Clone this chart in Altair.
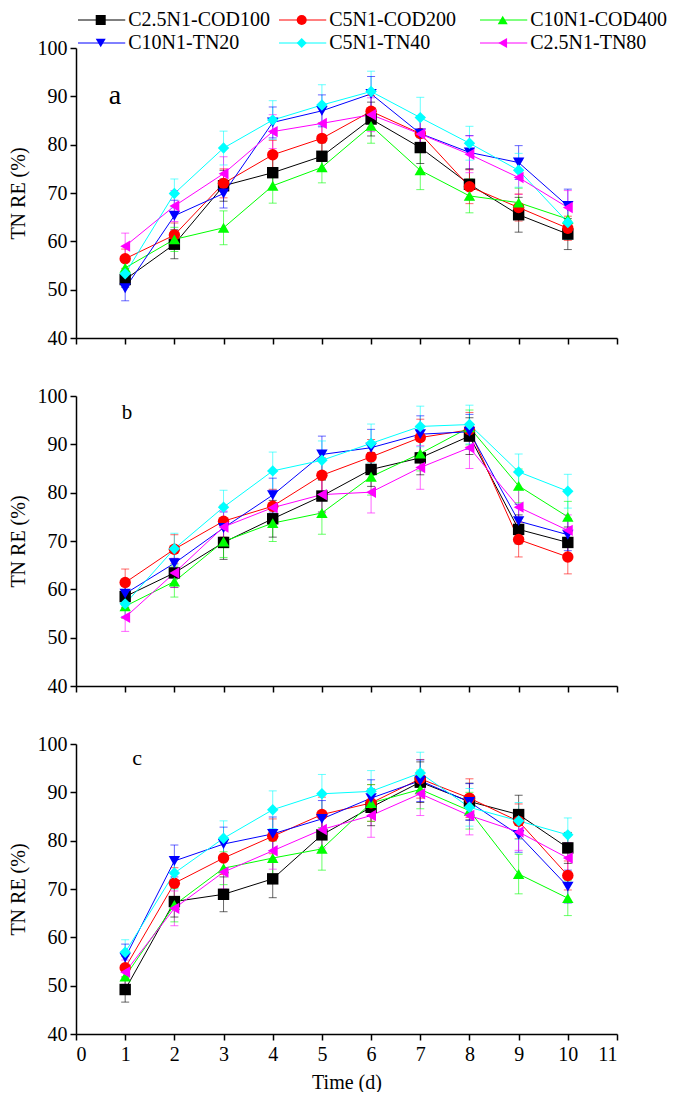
import altair as alt
import pandas as pd

DAYS = [1, 2, 3, 4, 5, 6, 7, 8, 9, 10]
SERIES = ["C2.5N1-COD100", "C5N1-COD200", "C10N1-COD400",
          "C10N1-TN20", "C5N1-TN40", "C2.5N1-TN80"]
COLORS = ["#000000", "#ff0000", "#00ff00", "#0000ff", "#00ffff", "#ff00ff"]
SHAPES = ["square", "circle", "triangle-up", "triangle-down", "diamond", "triangle-left"]
X_TICKS = [0, 1, 2, 3, 4, 5, 6, 7, 8, 9, 10, 11]
Y_TICKS = [40, 50, 60, 70, 80, 90, 100]
PANEL_LABELS = ["a", "b", "c"]

# ---- panel a ----
A_COD100 = [52.1, 59.4, 71.5, 74.2, 77.6, 85.3, 79.4, 71.8, 65.5, 61.5]
A_COD200 = [56.4, 61.3, 72.0, 77.9, 81.3, 86.9, 82.3, 71.3, 67.0, 62.7]
A_COD400 = [54.5, 60.4, 62.8, 71.5, 75.3, 83.9, 74.7, 69.4, 68.0, 64.6]
A_TN20 = [50.3, 65.3, 69.9, 84.6, 87.0, 90.5, 82.3, 78.4, 76.3, 67.3]
A_TN40 = [53.3, 69.9, 79.3, 85.1, 88.2, 91.0, 85.6, 80.3, 74.7, 63.9]
A_TN80 = [59.0, 67.3, 74.0, 82.7, 84.4, 86.2, 82.2, 78.0, 73.2, 67.0]
A_ERR_COD100 = [1.6, 3.0, 3.2, 3.3, 2.8, 3.5, 3.3, 3.2, 3.6, 3.2]
A_ERR_COD200 = [2.0, 2.5, 3.0, 3.0, 3.2, 3.3, 3.3, 3.5, 2.8, 2.5]
A_ERR_COD400 = [2.5, 2.5, 3.5, 3.6, 3.2, 3.6, 4.0, 3.5, 3.0, 3.0]
A_ERR_TN20 = [2.6, 3.2, 3.0, 3.2, 3.3, 3.6, 3.5, 3.5, 3.5, 3.5]
A_ERR_TN40 = [2.5, 3.0, 3.5, 4.0, 4.2, 4.2, 4.2, 3.5, 3.5, 3.5]
A_ERR_TN80 = [2.7, 3.2, 3.5, 3.5, 3.5, 3.5, 3.5, 3.8, 3.5, 3.5]

# ---- panel b ----
B_COD100 = [58.5, 63.4, 69.7, 74.6, 79.3, 84.8, 87.2, 91.7, 72.4, 69.7]
B_COD200 = [61.4, 68.3, 74.1, 77.2, 83.6, 87.4, 91.4, 93.0, 70.3, 66.7]
B_COD400 = [56.5, 61.6, 69.9, 73.7, 75.8, 83.3, 88.1, 93.5, 81.4, 75.0]
B_TN20 = [59.1, 65.4, 72.7, 79.5, 87.9, 89.3, 92.1, 92.6, 74.1, 71.3]
B_TN40 = [57.0, 68.4, 77.0, 84.5, 86.7, 90.2, 93.7, 94.1, 84.3, 80.3]
B_TN80 = [54.2, 63.4, 72.9, 76.9, 79.6, 80.1, 85.2, 89.3, 77.0, 72.2]
B_ERR_COD100 = [2.2, 3.0, 3.5, 3.8, 3.3, 3.5, 3.5, 3.8, 3.0, 3.2]
B_ERR_COD200 = [2.8, 3.0, 3.3, 3.5, 3.6, 3.6, 3.8, 3.6, 3.6, 3.5]
B_ERR_COD400 = [2.5, 3.2, 3.3, 3.8, 4.4, 3.8, 3.6, 3.6, 3.5, 3.2]
B_ERR_TN20 = [2.4, 3.0, 3.3, 3.5, 3.8, 3.8, 3.8, 3.6, 3.5, 3.3]
B_ERR_TN40 = [2.6, 3.2, 3.5, 3.9, 4.0, 4.0, 4.2, 4.0, 3.7, 3.5]
B_ERR_TN80 = [2.9, 3.0, 3.3, 3.6, 3.8, 4.3, 4.5, 4.3, 3.8, 3.2]

# ---- panel c ----
C_COD100 = [49.2, 67.4, 68.9, 72.1, 81.2, 86.9, 92.1, 88.1, 85.4, 78.5]
C_COD200 = [53.7, 71.2, 76.4, 80.9, 85.4, 87.8, 92.8, 88.8, 84.0, 72.8]
C_COD400 = [51.9, 66.7, 74.3, 76.4, 78.3, 87.8, 90.6, 86.2, 73.1, 68.1]
C_TN20 = [55.8, 75.8, 79.3, 81.4, 84.5, 88.8, 92.4, 88.0, 81.2, 70.5]
C_TN40 = [56.9, 73.3, 80.5, 86.4, 89.7, 90.2, 94.0, 86.9, 84.1, 81.2]
C_TN80 = [52.8, 66.0, 73.5, 77.9, 82.3, 85.2, 89.7, 85.2, 81.8, 76.4]
C_ERR_COD100 = [2.6, 3.2, 3.6, 3.9, 3.5, 3.8, 4.2, 3.8, 4.0, 3.2]
C_ERR_COD200 = [2.4, 3.2, 3.4, 3.6, 3.6, 3.8, 4.0, 4.0, 3.6, 3.0]
C_ERR_COD400 = [2.2, 3.5, 3.4, 3.5, 4.4, 3.8, 4.0, 3.8, 4.1, 3.6]
C_ERR_TN20 = [2.8, 3.3, 3.5, 3.5, 3.8, 3.8, 4.3, 3.8, 3.6, 3.4]
C_ERR_TN40 = [2.6, 3.3, 3.6, 3.9, 4.0, 4.3, 4.3, 3.9, 3.8, 3.5]
C_ERR_TN80 = [2.5, 3.6, 3.5, 3.8, 3.8, 4.5, 4.5, 4.0, 3.8, 3.2]

PANELS = [
    ([A_COD100, A_COD200, A_COD400, A_TN20, A_TN40, A_TN80],
     [A_ERR_COD100, A_ERR_COD200, A_ERR_COD400, A_ERR_TN20, A_ERR_TN40, A_ERR_TN80]),
    ([B_COD100, B_COD200, B_COD400, B_TN20, B_TN40, B_TN80],
     [B_ERR_COD100, B_ERR_COD200, B_ERR_COD400, B_ERR_TN20, B_ERR_TN40, B_ERR_TN80]),
    ([C_COD100, C_COD200, C_COD400, C_TN20, C_TN40, C_TN80],
     [C_ERR_COD100, C_ERR_COD200, C_ERR_COD400, C_ERR_TN20, C_ERR_TN40, C_ERR_TN80]),
]

W, H = 541, 290
FONT = "Liberation Serif"

color_enc = alt.Color("series:N", scale=alt.Scale(domain=SERIES, range=COLORS), legend=None)
shape_enc = alt.Shape("series:N", scale=alt.Scale(domain=SERIES, range=SHAPES), legend=None)

# label pixel placement & size per panel (annotation styling)
LABEL_STYLE = [(39, 48, 28), (51, 17, 21), (61, 14, 22)]


def make_panel(idx):
    values, errs = PANELS[idx]
    rows = []
    for s, vals, es in zip(SERIES, values, errs):
        for d, v, e in zip(DAYS, vals, es):
            rows.append({"day": d, "series": s, "value": v, "lo": v - e, "hi": v + e})
    df = pd.DataFrame(rows)
    bottom = idx == 2

    xaxis_kw = dict(values=X_TICKS, labels=bottom, tickSize=6, labelPadding=4,
                    titlePadding=8, format="d")
    x_kw = {}
    if bottom:
        x_kw["title"] = "Time (d)"
    else:
        x_kw["title"] = None
    xs = alt.Scale(domain=[0, 11], nice=False)
    ys = alt.Scale(domain=[40, 100], nice=False)
    x = alt.X("day:Q", scale=xs, axis=alt.Axis(**xaxis_kw), **x_kw)
    y = alt.Y("value:Q", scale=ys, title="TN RE (%)",
              axis=alt.Axis(values=Y_TICKS, tickSize=6, labelPadding=3, titlePadding=9))

    base = alt.Chart(df)
    err_rule = base.mark_rule(strokeWidth=1, opacity=0.6).encode(
        x=alt.X("day:Q", scale=xs), y=alt.Y("lo:Q", scale=ys), y2="hi:Q", color=color_enc)
    cap_lo = base.mark_tick(orient="horizontal", size=8, thickness=1, opacity=0.6).encode(
        x=alt.X("day:Q", scale=xs), y=alt.Y("lo:Q", scale=ys), color=color_enc)
    cap_hi = base.mark_tick(orient="horizontal", size=8, thickness=1, opacity=0.6).encode(
        x=alt.X("day:Q", scale=xs), y=alt.Y("hi:Q", scale=ys), color=color_enc)
    line = base.mark_line(strokeWidth=1).encode(x=x, y=y, color=color_enc, detail="series:N")
    pts = base.mark_point(filled=True, size=130, opacity=1).encode(
        x=alt.X("day:Q", scale=xs), y=alt.Y("value:Q", scale=ys), color=color_enc, shape=shape_enc)

    lx, ly, lsize = LABEL_STYLE[idx]
    lab = alt.Chart(pd.DataFrame({"label": [PANEL_LABELS[idx]]})).mark_text(
        font=FONT, fontSize=lsize, color="black", align="center", baseline="middle"
    ).encode(text="label:N", x=alt.value(lx), y=alt.value(ly))

    main = alt.layer(line, err_rule, cap_lo, cap_hi, pts, lab)

    if idx == 0:
        leg_df = pd.DataFrame({
            "series": SERIES,
            "col": [i % 3 for i in range(6)],
            "row": [i // 3 for i in range(6)],
        })
        leg_df["x0"] = leg_df["col"]
        leg_df["x1"] = leg_df["col"] + 0.235
        leg_df["xm"] = leg_df["col"] + 0.113
        leg_df["xt"] = leg_df["col"] + 0.25
        lxs = alt.Scale(domain=[0, 2], range=[2, 404], nice=False, zero=False)
        lys = alt.Scale(domain=[0, 1], range=[-28, -5], nice=False, zero=False)
        lb = alt.Chart(leg_df)
        leg_line = lb.mark_rule(strokeWidth=1).encode(
            x=alt.X("x0:Q", scale=lxs, axis=None), x2="x1:Q",
            y=alt.Y("row:Q", scale=lys, axis=None), color=color_enc)
        leg_pt = lb.mark_point(filled=True, size=100, opacity=1).encode(
            x=alt.X("xm:Q", scale=lxs, axis=None), y=alt.Y("row:Q", scale=lys, axis=None),
            color=color_enc, shape=shape_enc)
        leg_txt = lb.mark_text(font=FONT, fontSize=20, color="black", align="left",
                               baseline="middle").encode(
            x=alt.X("xt:Q", scale=lxs, axis=None), y=alt.Y("row:Q", scale=lys, axis=None),
            text="series:N")
        legend = alt.layer(leg_line, leg_pt, leg_txt)
        return alt.layer(main, legend).resolve_scale(x="independent", y="independent").properties(
            width=W, height=H)
    return main.properties(width=W, height=H)


chart = alt.vconcat(make_panel(0), make_panel(1), make_panel(2), spacing=58, bounds="flush").properties(
    padding={"top": 2, "left": 0, "right": 0, "bottom": 0}
).configure_view(stroke=None).configure_axis(
    labelFont=FONT, titleFont=FONT, labelFontSize=20, titleFontSize=20,
    labelColor="black", titleColor="black", domainColor="black", tickColor="black",
    domainWidth=1.5, tickWidth=1.5, grid=False, titleFontWeight="normal"
)

chart.save("out.html", embed_options={"renderer": "svg", "actions": False})
